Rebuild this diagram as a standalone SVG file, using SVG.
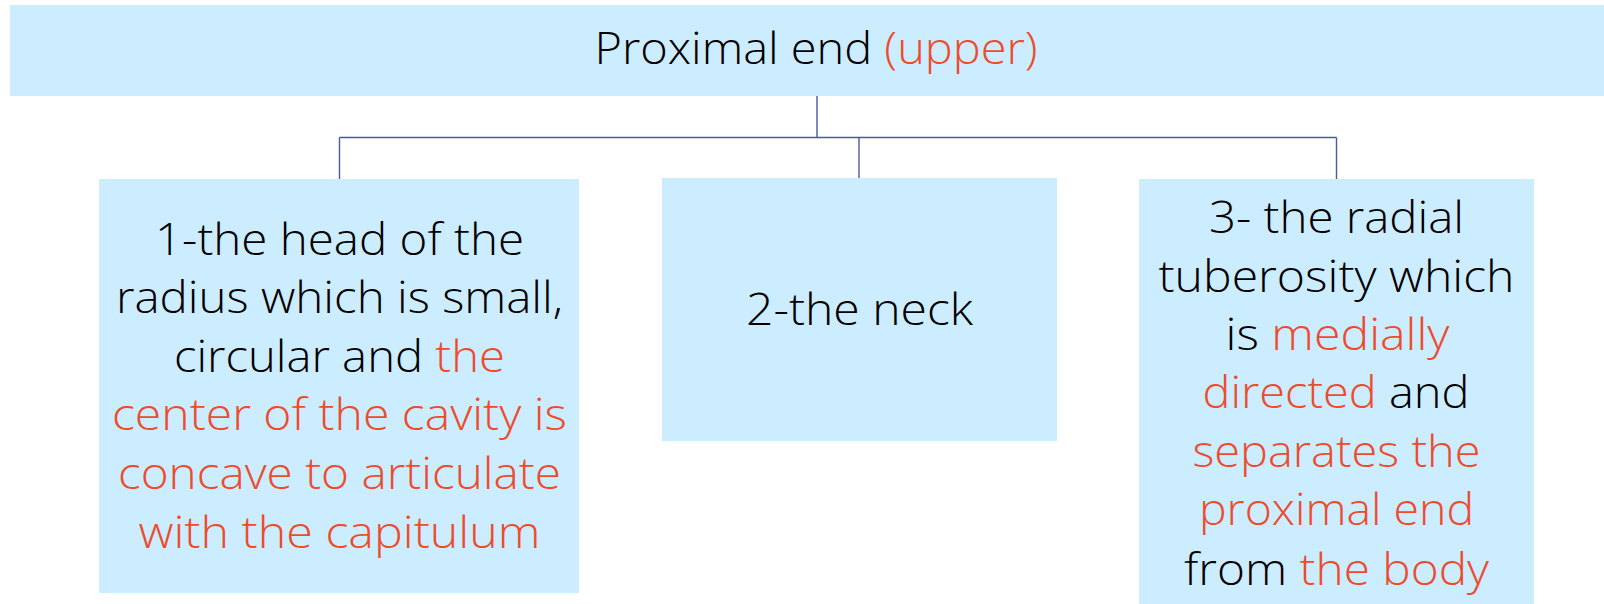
<svg xmlns="http://www.w3.org/2000/svg" width="1604" height="604" viewBox="0 0 1604 604">
<style>
.box{fill:#CCECFF;stroke:none}
.t{font-family:"Open Sans","Liberation Sans",sans-serif;font-size:45px;font-weight:300;fill:#000;text-anchor:middle}
.r{fill:#EE4B2B}
.c{fill:none;stroke:#4A58A6;stroke-width:1.4}
</style>
<rect width="1604" height="604" fill="#fff"/>
<g id="connectors">
<path class="c" d="M817 96 V137.5 M339.5 137.5 H1336.5 M339.5 137.5 V179 M859 137.5 V178 M1336.5 137.5 V179"/>
</g>
<g id="top">
<rect class="box" x="10" y="5" width="1594" height="91"/>
<text class="t" x="816" y="64" textLength="443" lengthAdjust="spacingAndGlyphs">Proximal end <tspan class="r">(upper)</tspan></text>
</g>
<g id="head">
<rect class="box" x="99" y="179" width="480" height="414"/>
<text class="t" x="339.5" y="255" textLength="369" lengthAdjust="spacingAndGlyphs">1-the head of the</text>
<text class="t" x="339.5" y="313" textLength="447" lengthAdjust="spacingAndGlyphs">radius which is small,</text>
<text class="t" x="339.5" y="371.5" textLength="331" lengthAdjust="spacingAndGlyphs">circular and <tspan class="r">the</tspan></text>
<text class="t r" x="339.5" y="430" textLength="455" lengthAdjust="spacingAndGlyphs">center of the cavity is</text>
<text class="t r" x="339.5" y="489" textLength="443" lengthAdjust="spacingAndGlyphs">concave to articulate</text>
<text class="t r" x="339.5" y="547.5" textLength="402" lengthAdjust="spacingAndGlyphs">with the capitulum</text>
</g>
<g id="neck">
<rect class="box" x="662" y="178" width="395" height="263"/>
<text class="t" x="859.5" y="325" textLength="227" lengthAdjust="spacingAndGlyphs">2-the neck</text>
</g>
<g id="tuberosity">
<rect class="box" x="1139" y="179" width="395" height="425"/>
<text class="t" x="1336.5" y="232.5" textLength="255" lengthAdjust="spacingAndGlyphs">3- the radial</text>
<text class="t" x="1336.5" y="291.5" textLength="356" lengthAdjust="spacingAndGlyphs">tuberosity which</text>
<text class="t" x="1337.5" y="350" textLength="224" lengthAdjust="spacingAndGlyphs">is <tspan class="r">medially</tspan></text>
<text class="t" x="1336" y="408" textLength="267" lengthAdjust="spacingAndGlyphs"><tspan class="r">directed</tspan> and</text>
<text class="t r" x="1336.5" y="466.5" textLength="288" lengthAdjust="spacingAndGlyphs">separates the</text>
<text class="t r" x="1336.5" y="525" textLength="275" lengthAdjust="spacingAndGlyphs">proximal end</text>
<text class="t" x="1336.5" y="585" textLength="305" lengthAdjust="spacingAndGlyphs">from <tspan class="r">the body</tspan></text>
</g>
</svg>
